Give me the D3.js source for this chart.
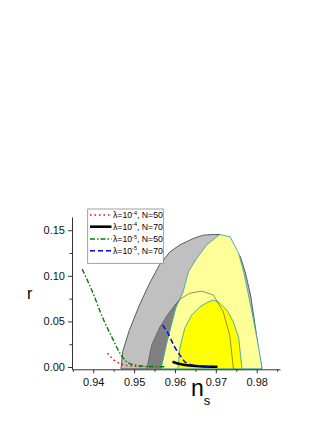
<!DOCTYPE html>
<head>
    <meta charset="utf-8">
    <title>r vs ns contours</title>
    <script src="https://cdn.jsdelivr.net/npm/d3@7"></script>
    <style>
      body { margin: 0; background: #fff; }
      text { font-family: "Liberation Sans", Arial, sans-serif; }
    </style>
</head>
<body>
  <div id="my_dataviz"></div>
  <script>

  // contour data, [n_s, r]
  var grayOuter = [[0.9468,-0.002],[0.9472,0.017],[0.9488,0.040],[0.9513,0.068],[0.9538,0.092],[0.9562,0.112],
    [0.9587,0.126],[0.9612,0.134],[0.9645,0.141],[0.9669,0.1446],[0.9694,0.1453],[0.9710,0.1453],[0.9735,0.137],
    [0.9760,0.121],[0.9772,0.104],[0.9785,0.079],[0.9797,0.043],[0.9805,0.017],[0.9813,-0.002]];
  var grayInner = [[0.9531,-0.002],[0.9543,0.0241],[0.9563,0.0438],[0.9583,0.058],[0.9600,0.0679],[0.9612,0.0745],
    [0.9637,0.081],[0.9665,0.0832],[0.9694,0.0789],[0.9718,0.0606],[0.9734,0.035],[0.9743,-0.002]];
  var yellowOuter = [[0.9566,-0.002],[0.9580,0.0263],[0.9593,0.0493],[0.9602,0.0646],[0.9620,0.0825],[0.9633,0.1044],
    [0.9653,0.119],[0.9677,0.1336],[0.9702,0.1427],[0.9710,0.1453],[0.9735,0.1427],[0.9756,0.1245],[0.9768,0.1044],
    [0.9780,0.0789],[0.9793,0.0496],[0.9805,0.0208],[0.9813,-0.002]];
  var yellowInner = [[0.9607,-0.002],[0.9612,0.0208],[0.9624,0.0427],[0.9641,0.057],[0.9661,0.066],[0.9682,0.0715],
    [0.9694,0.0734],[0.9706,0.0715],[0.9727,0.0624],[0.9743,0.0496],[0.9756,0.0314],[0.9764,-0.002]];

  // model predictions
  var lam4N50 = [[0.9435,0.015],[0.9451,0.0075],[0.9466,0.0035],[0.9480,0.0018],[0.9493,0.001],[0.9509,0.0006],[0.9525,0.0002]];
  var lam4N70 = [[0.9594,0.0058],[0.9612,0.0033],[0.9636,0.0016],[0.9669,0.0006],[0.9704,0.0003]];
  var lam5N50 = [[0.9373,0.1073],[0.9398,0.0825],[0.9422,0.0551],[0.9447,0.0314],[0.9468,0.0131],[0.9488,0.004],
    [0.9513,0.0014],[0.9538,0.0005],[0.9579,0.0002]];
  var lam5N70 = [[0.9570,0.046],[0.9583,0.0369],[0.9599,0.0222],[0.9612,0.0131],[0.9624,0.0058],[0.9641,0.0022],
    [0.9661,0.0011],[0.9694,0.0003]];

  var xTicks = [0.94, 0.95, 0.96, 0.97, 0.98];
  var xMinor = [0.935, 0.945, 0.955, 0.965, 0.975, 0.985];
  var yTicks = [0, 0.05, 0.10, 0.15];
  var yMinor = [0.025, 0.075, 0.125];

  var legendItems = [
    {exp: "-4", n: 50, color: "#ff0000", dash: "1.5,3", w: 1.5, data: lam4N50},
    {exp: "-4", n: 70, color: "#000000", dash: null, w: 2.6, data: lam4N70},
    {exp: "-5", n: 50, color: "#008000", dash: "5,2,1.5,2", w: 1.4, data: lam5N50},
    {exp: "-5", n: 70, color: "#0000ff", dash: "5,3", w: 1.5, data: lam5N70}
  ];

  var svg = d3.select("#my_dataviz")
    .append("svg")
      .attr("width", 327)
      .attr("height", 423);

  var x = d3.scaleLinear().domain([0.9348, 0.9857]).range([72, 280]);
  var y = d3.scaleLinear().domain([-0.0025, 0.1645]).range([369.3, 217]);

  var area = d3.line().x(function(d) { return x(d[0]); }).y(function(d) { return y(d[1]); });
  var curve = d3.line().x(function(d) { return x(d[0]); }).y(function(d) { return y(d[1]); })
    .curve(d3.curveMonotoneX);

  // contours
  svg.append("path").attr("d", area(grayOuter) + "Z")
    .attr("fill", "#c0c0c0").attr("stroke", "#3a3a3a").attr("stroke-width", 0.8);
  svg.append("path").attr("d", area(grayInner) + "Z")
    .attr("fill", "#808080").attr("stroke", "none");
  svg.append("path").attr("d", area(yellowOuter) + "Z")
    .attr("fill", "#ffff99").attr("stroke", "#3aa8a8").attr("stroke-width", 0.9);
  svg.append("path").attr("d", area(yellowInner) + "Z")
    .attr("fill", "#ffff00").attr("stroke", "#3aa8a8").attr("stroke-width", 0.9);
  svg.append("path").attr("d", area(grayInner))
    .attr("fill", "none").attr("stroke", "#4a4a3a").attr("stroke-width", 0.6);

  // prediction lines
  legendItems.forEach(function(it) {
    svg.append("path").attr("d", curve(it.data))
      .attr("fill", "none")
      .attr("stroke", it.color)
      .attr("stroke-width", it.w)
      .attr("stroke-dasharray", it.dash);
  });

  // axes
  var fmt = d3.format(".2f");
  var gx = svg.append("g").attr("transform", "translate(0," + 369.3 + ")")
    .call(d3.axisBottom(x).tickValues(xTicks).tickSize(4).tickSizeOuter(0).tickFormat(fmt));
  svg.append("g").attr("transform", "translate(0," + 369.3 + ")")
    .call(d3.axisBottom(x).tickValues(xMinor).tickSize(2.5).tickSizeOuter(0).tickFormat(""))
    .select(".domain").remove();
  var gy = svg.append("g").attr("transform", "translate(72,0)")
    .call(d3.axisLeft(y).tickValues(yTicks).tickSize(4).tickSizeOuter(0).tickFormat(fmt));
  svg.append("g").attr("transform", "translate(72,0)")
    .call(d3.axisLeft(y).tickValues(yMinor).tickSize(2.5).tickSizeOuter(0).tickFormat(""))
    .select(".domain").remove();

  svg.selectAll(".domain").attr("stroke", "#333");
  svg.selectAll(".tick line").attr("stroke", "#333");
  svg.selectAll(".tick text")
    .attr("font-family", "Liberation Sans, Arial, sans-serif")
    .attr("font-size", "11px")
    .attr("fill", "#111");
  gx.selectAll(".tick text").attr("dy", "0.9em");

  // axis titles
  svg.append("text").attr("x", 27).attr("y", 299)
    .attr("font-size", "16px").text("r");
  var xl = svg.append("text").attr("x", 191).attr("y", 396).attr("font-size", "23px");
  xl.append("tspan").text("n");
  xl.append("tspan").attr("font-size", "13px").attr("dy", 9).text("s");

  // legend
  var lg = svg.append("g");
  lg.append("rect").attr("x", 87.7).attr("y", 209).attr("width", 75.6).attr("height", 54.3)
    .attr("fill", "#fff").attr("stroke", "#888").attr("stroke-width", 0.8);
  var rowY = [215, 226.7, 239, 250.7];
  legendItems.forEach(function(it, i) {
    lg.append("line").attr("x1", 90).attr("x2", 111.5).attr("y1", rowY[i]).attr("y2", rowY[i])
      .attr("stroke", it.color).attr("stroke-width", it.w).attr("stroke-dasharray", it.dash);
    var t = lg.append("text").attr("x", 113).attr("y", rowY[i] + 3).attr("font-size", "8.7px");
    t.append("tspan").text("\u03bb=10");
    t.append("tspan").attr("font-size", "5.5px").attr("dy", -3.5).text(it.exp);
    t.append("tspan").attr("dy", 3.5).text(", N=" + it.n);
  });

  </script>
</body>
